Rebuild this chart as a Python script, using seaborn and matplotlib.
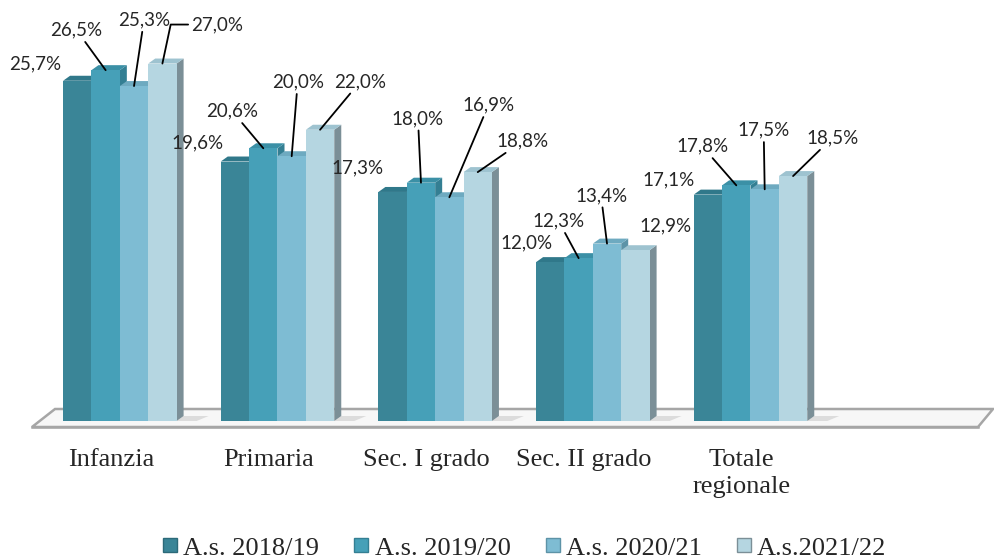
import numpy as np
import pandas as pd
import matplotlib
matplotlib.use('Agg')
import matplotlib.pyplot as plt
import seaborn as sns
from matplotlib.patches import Polygon
from matplotlib.lines import Line2D
from matplotlib.transforms import ScaledTranslation

# dati
categorie = ['Infanzia', 'Primaria', 'Sec. I grado', 'Sec. II grado', 'Totale\nregionale']
anni = ['A.s. 2018/19', 'A.s. 2019/20', 'A.s. 2020/21', 'A.s.2021/22']
v_2018 = [25.7, 19.6, 17.3, 12.0, 17.1]
v_2019 = [26.5, 20.6, 18.0, 12.3, 17.8]
v_2020 = [25.3, 20.0, 16.9, 13.4, 17.5]
v_2021 = [27.0, 22.0, 18.8, 12.9, 18.5]

colori = ['#3a8597', '#46a0b8', '#7ebcd3', '#b5d6e1']
lati = ['#2c6a79', '#347f93', '#5d93a7', '#7b8f97']
tetti = ['#30788a', '#3b90a6', '#6eaac0', '#9ec3d0']

# posizione delle etichette (pixel rispetto alla cima della barra) e linee guida
off_x = [[-42, -29, 10, 55], [-37, -31, 6, 40], [-35, -3, 39, 45], [-24, -20, -6, 30], [-39, -34, -1, 39]]
off_y = [[17, 40, 66, 39], [19, 37, 74, 48], [24, 64, 92, 31], [19, 37, 48, 24], [15, 39, 59, 38]]
linea = [[0, 1, 1, 2], [0, 1, 1, 1], [0, 1, 1, 1], [0, 1, 1, 0], [0, 1, 1, 1]]

df = pd.DataFrame({
    'categoria': categorie * 4,
    'anno': np.repeat(anni, len(categorie)),
    'valore': v_2018 + v_2019 + v_2020 + v_2021,
})

sns.set_style('white')
plt.rcParams['font.family'] = ['Liberation Serif', 'DejaVu Serif']

fig = plt.figure(figsize=(9.95, 5.58), dpi=100)
ax = fig.add_axes([32 / 995, 137 / 558, 946 / 995, 421 / 558])
ax.patch.set_visible(False)

sns.barplot(data=df, x='categoria', y='valore', hue='anno', order=categorie, hue_order=anni,
            palette=colori, width=0.72, saturation=1, legend=False, edgecolor='none', ax=ax)

ymax = 31.8
ax.set_xlim(-0.5, 5.5)
ax.set_ylim(0, ymax)
ax.set_xlabel('')
ax.set_ylabel('')
ax.set_yticks([])

# pixel per unità
ppx = ax.bbox.width / 6
ppy = ax.bbox.height / ymax
dx = 7 / ppx
dy = 5 / ppy
sposta = ax.transData + ScaledTranslation(9 / 100, 0, fig.dpi_scale_trans)

# pavimento 3D
pav = Polygon([(-0.5, -6 / ppy), (5.5, -6 / ppy), (5.5 + 15 / ppx, 12 / ppy), (-0.5 + 23 / ppx, 12 / ppy)],
              closed=True, facecolor='#f7f7f7', edgecolor='#a6a6a6', lw=1.8, clip_on=False, zorder=0.5)
ax.add_patch(pav)

barre = list(ax.patches[:20])
n = len(categorie)
for k, p in enumerate(barre):
    j, i = k // n, k % n
    x0, w, h = p.get_x(), p.get_width(), p.get_height()
    p.set_transform(sposta)
    p.set_zorder(3)
    # ombra sul pavimento
    if j == 3:
        ombra = Polygon([(x0 + w + dx, dy), (x0 + w + dx + 25 / ppx, dy), (x0 + w + 20 / ppx, 0), (x0 + w, 0)],
                        closed=True, facecolor='#dcdcdc', edgecolor='none', zorder=1, transform=sposta)
        ax.add_patch(ombra)
    lato = Polygon([(x0 + w, 0), (x0 + w + dx, dy), (x0 + w + dx, h + dy), (x0 + w, h)],
                   closed=True, facecolor=lati[j], edgecolor='none', zorder=2, transform=sposta)
    tetto = Polygon([(x0, h), (x0 + w, h), (x0 + w + dx, h + dy), (x0 + dx, h + dy)],
                    closed=True, facecolor=tetti[j], edgecolor='none', zorder=2, transform=sposta)
    ax.add_patch(lato)
    ax.add_patch(tetto)

    testo = f'{h:.1f}%'.replace('.', ',')
    tipo = linea[i][j]
    if tipo == 0:
        props = None
    elif tipo == 1:
        props = dict(arrowstyle='-', color='black', lw=1.3, shrinkA=0, shrinkB=0)
    else:
        props = dict(arrowstyle='-', color='black', lw=1.3, shrinkA=0, shrinkB=0,
                     relpos=(0, 0.5), connectionstyle='angle,angleA=180,angleB=78,rad=0')
    ax.annotate(testo, xy=(x0 + w / 2, h), xycoords=sposta,
                xytext=(off_x[i][j], off_y[i][j]), textcoords='offset pixels',
                ha='center', va='center', fontsize=13.5, family=['Lato', 'DejaVu Sans'],
                arrowprops=props, zorder=5)

# assi
sns.despine(ax=ax, left=True, top=True, right=True, bottom=False)
ax.spines['bottom'].set_position(('outward', 6 * 72 / 100))
ax.spines['bottom'].set_color('#a6a6a6')
ax.spines['bottom'].set_linewidth(1.8)
ax.set_xticks(np.arange(-0.5, 5.6, 1), minor=True)
ax.tick_params(axis='x', which='minor', length=5, width=1.5, color='#a6a6a6', direction='out')
ax.tick_params(axis='x', which='major', length=0, labelsize=19, pad=16)
for etichetta in ax.get_xticklabels():
    etichetta.set_linespacing(1.3)

# legenda
maniglie = [Line2D([], [], marker='s', markersize=10, linestyle='none', color=colori[j],
                   markeredgecolor=lati[j]) for j in range(4)]
fig.legend(maniglie, anni, loc='center', bbox_to_anchor=(0.527, 0.018), ncol=4, frameon=False,
           fontsize=19, handlelength=0.6, handletextpad=0.2, columnspacing=1.3)

fig.savefig('out.png', dpi=100)
